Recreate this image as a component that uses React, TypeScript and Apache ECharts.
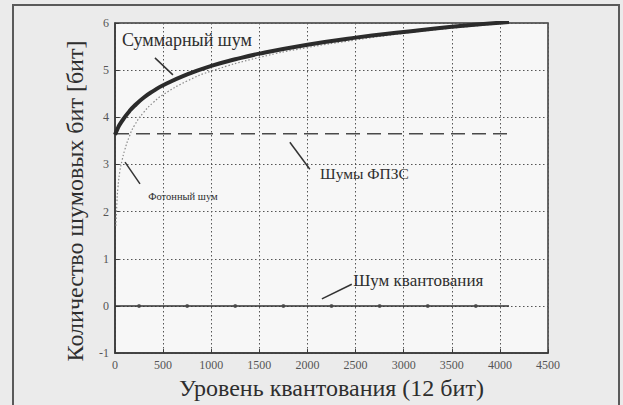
import React, { useEffect, useRef } from "react";
import * as echarts from "echarts";

// x positions (quantization level, 12 bit)
const totalX = [0, 25, 50, 100, 150, 200, 300, 400, 500, 750, 1000, 1250, 1500, 2000, 2500, 3000, 3500, 4095];
const totalY = [3.63, 3.75, 3.85, 4.0, 4.13, 4.24, 4.42, 4.56, 4.68, 4.91, 5.09, 5.23, 5.35, 5.54, 5.69, 5.81, 5.92, 6.02];

const photonX = [10, 20, 30, 50, 75, 100, 150, 200, 300, 400, 500, 750, 1000, 1500, 2000, 2500, 3000, 3500, 4095];
const photonY = [1.7, 2.2, 2.5, 2.85, 3.1, 3.3, 3.6, 3.82, 4.11, 4.32, 4.48, 4.77, 4.98, 5.27, 5.48, 5.64, 5.78, 5.89, 6.0];

const fpnX = [0, 4095];
const fpnY = [3.65, 3.65];

const quantX = [0, 250, 750, 1250, 1750, 2250, 2750, 3250, 3750, 4095];
const quantY = [0, 0, 0, 0, 0, 0, 0, 0, 0, 0];
const quantMarkers = [250, 750, 1250, 1750, 2250, 2750, 3250, 3750];

const xTicks = [0, 500, 1000, 1500, 2000, 2500, 3000, 3500, 4000, 4500];
const yTicks = [-1, 0, 1, 2, 3, 4, 5, 6];

const xName = "Уровень квантования (12 бит)";
const yName = "Количество шумовых бит [бит]";

// annotations in data coordinates
const annLabels = ["Суммарный шум", "Фотонный шум", "Шумы ФПЗС", "Шум квантования"];
const annText = [[73, 5.64], [345, 2.32], [2131, 2.8], [2475, 0.53]];
const annSize = [18, 10.5, 15.5, 17];
const annFrom = [[415, 5.26], [104, 3.05], [1817, 3.47], [2150, 0.15]];
const annTo = [[602, 4.9], [260, 2.59], [2025, 2.9], [2461, 0.46]];

const zip = (xs: number[], ys: number[]) => xs.map((x, i) => [x, ys[i]]);

export default function App() {
  const ref = useRef<HTMLDivElement>(null);
  useEffect(() => {
    document.body.style.margin = "0";
    const chart = echarts.init(ref.current!, null, { renderer: "svg" });
    const font = "Liberation Serif";
    chart.setOption({
      animation: false,
      backgroundColor: "#ebebeb",
      textStyle: { fontFamily: font },
      grid: {
        left: 115,
        top: 23,
        right: 75,
        bottom: 49.5,
        show: true,
        backgroundColor: "#f7f7f7",
        borderColor: "#3a3a3a",
        borderWidth: 1.5,
      },
      xAxis: {
        type: "value",
        min: xTicks[0],
        max: xTicks[xTicks.length - 1],
        interval: 500,
        name: xName,
        nameLocation: "middle",
        nameGap: 20,
        nameTextStyle: { fontSize: 24, color: "#2e2e2e", fontFamily: font },
        axisLine: { show: true, onZero: false, lineStyle: { color: "#3a3a3a", width: 1.5 } },
        axisTick: { show: true, inside: true, length: 4, lineStyle: { color: "#3a3a3a" } },
        axisLabel: { fontSize: 12, color: "#555", margin: 6, fontFamily: font, formatter: (v: number) => String(v) },
        splitLine: { show: true, lineStyle: { type: [1.5, 2.5], color: "#555", width: 1 } },
      },
      yAxis: {
        type: "value",
        min: yTicks[0],
        max: yTicks[yTicks.length - 1],
        interval: 1,
        axisLine: { show: true, onZero: false, lineStyle: { color: "#3a3a3a", width: 1.5 } },
        axisTick: { show: true, inside: true, length: 4, lineStyle: { color: "#3a3a3a" } },
        axisLabel: { fontSize: 12, color: "#555", margin: 6, fontFamily: font, formatter: (v: number) => String(v) },
        splitLine: { show: true, lineStyle: { type: [1.5, 2.5], color: "#555", width: 1 } },
      },
      series: [
        {
          name: "Фотонный шум",
          type: "line",
          data: zip(photonX, photonY),
          smooth: true,
          showSymbol: false,
          lineStyle: { color: "#8a8a8a", width: 1.2, type: [1.5, 2] },
          z: 2,
        },
        {
          name: "Шумы ФПЗС",
          type: "line",
          data: zip(fpnX, fpnY),
          showSymbol: false,
          lineStyle: { color: "#4a4a4a", width: 1.5, type: [14, 7] },
          z: 3,
        },
        {
          name: "Шум квантования",
          type: "line",
          data: zip(quantX, quantY),
          showSymbol: false,
          lineStyle: { color: "#333", width: 1.5 },
          z: 3,
        },
        {
          name: "Шум квантования маркеры",
          type: "scatter",
          data: quantMarkers.map((x) => [x, 0]),
          symbol: "circle",
          symbolSize: 4,
          itemStyle: { color: "#444" },
          z: 4,
        },
        {
          name: "Суммарный шум",
          type: "line",
          data: zip(totalX, totalY),
          smooth: true,
          showSymbol: false,
          lineStyle: { color: "#2b2b2b", width: 4 },
          z: 5,
        },
      ],
    });

    const px = (p: number[]) => chart.convertToPixel({ gridIndex: 0 }, p) as number[];
    const graphics: any[] = [
      {
        type: "rect",
        shape: { x: 13, y: 5, width: 606, height: 420 },
        style: { fill: "none", stroke: "#5a5a5a", lineWidth: 2 },
        silent: true,
      },
      {
        type: "text",
        x: 75,
        y: 201,
        rotation: Math.PI / 2,
        style: {
          text: yName,
          fontSize: 24,
          fontFamily: font,
          fill: "#2e2e2e",
          align: "center",
          verticalAlign: "middle",
        },
      },
    ];
    annLabels.forEach((label, i) => {
      const t = px(annText[i]);
      const a = px(annFrom[i]);
      const b = px(annTo[i]);
      graphics.push({
        type: "line",
        shape: { x1: a[0], y1: a[1], x2: b[0], y2: b[1] },
        style: { stroke: "#333", lineWidth: 1.5 },
        z: 10,
      });
      graphics.push({
        type: "text",
        x: t[0],
        y: t[1],
        style: {
          text: label,
          fontSize: annSize[i],
          fontFamily: font,
          fill: "#2e2e2e",
          verticalAlign: "middle",
        },
        z: 10,
      });
    });
    chart.setOption({ graphic: graphics });
    return () => chart.dispose();
  }, []);
  return <div ref={ref} style={{ width: 623, height: 405 }} />;
}
